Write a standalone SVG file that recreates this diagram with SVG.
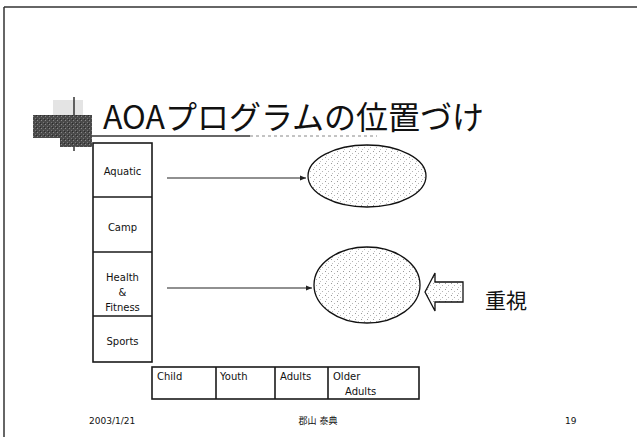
<svg xmlns="http://www.w3.org/2000/svg" width="637" height="437" viewBox="0 0 637 437">
<defs>
<pattern id="dots" width="6" height="6" patternUnits="userSpaceOnUse">
<rect width="6" height="6" fill="#ffffff"/>
<rect x="1" y="1" width="1" height="1" fill="#9a9a9a"/>
<rect x="4" y="3" width="1" height="1" fill="#b5b5b5"/>
<rect x="2" y="5" width="1" height="1" fill="#c0c0c0"/>
</pattern>
<pattern id="grain" width="4" height="4" patternUnits="userSpaceOnUse">
<rect width="4" height="4" fill="#4a4a4a"/>
<rect x="1" y="0" width="1" height="1" fill="#8a8a8a"/>
<rect x="3" y="2" width="1" height="1" fill="#777"/>
<rect x="0" y="3" width="1" height="1" fill="#2a2a2a"/>
</pattern>
<marker id="ah" viewBox="0 0 10 10" refX="10" refY="5" markerWidth="6" markerHeight="6" orient="auto" markerUnits="userSpaceOnUse">
<path d="M0,1 L10,5 L0,9 Z" fill="#222"/>
</marker>
<style>
.ln{stroke:#1a1a1a;stroke-width:1.6;fill:none}
.cell{font-family:"DejaVu Sans",Verdana,sans-serif;font-size:10px;fill:#111}
.ell{fill:url(#dots);stroke:#111;stroke-width:1.3}
.foot{font-family:"DejaVu Sans","Noto Sans CJK JP",sans-serif;font-size:9px;fill:#111}
</style>
</defs>
<rect width="637" height="437" fill="#ffffff"/>
<g id="frame">
<line x1="4" y1="7" x2="637" y2="7" stroke="#333" stroke-width="1.5"/>
<line x1="4" y1="7" x2="4" y2="437" stroke="#333" stroke-width="1.5"/>
</g>
<g id="title">
<rect x="53" y="100" width="30" height="17" fill="#e4e4e4"/>
<line x1="74" y1="97" x2="74" y2="151" stroke="#333" stroke-width="1.5"/>
<path d="M33,115 H92 V147 H60 V138 H33 Z" fill="url(#grain)"/>
<line x1="92" y1="136" x2="250" y2="136" stroke="#333" stroke-width="1.3"/>
<line x1="250" y1="136" x2="377" y2="136" stroke="#888" stroke-width="1" stroke-dasharray="3,3"/>
<text x="103" y="129" font-family="'Noto Sans CJK JP','Noto Sans',sans-serif" font-size="32" fill="#111">AOAプログラムの位置づけ</text>
</g>
<g id="programs">
<rect x="93" y="143" width="59" height="219" class="ln"/>
<line x1="93" y1="197" x2="152" y2="197" class="ln"/>
<line x1="93" y1="252" x2="152" y2="252" class="ln"/>
<line x1="93" y1="316" x2="152" y2="316" class="ln"/>
<text class="cell" x="122.5" y="175" text-anchor="middle">Aquatic</text>
<text class="cell" x="122.5" y="231" text-anchor="middle">Camp</text>
<text class="cell" x="122.5" y="281" text-anchor="middle">Health</text>
<text class="cell" x="122.5" y="296" text-anchor="middle">&amp;</text>
<text class="cell" x="122.5" y="311" text-anchor="middle">Fitness</text>
<text class="cell" x="122.5" y="345" text-anchor="middle">Sports</text>
</g>
<g id="ages">
<rect x="152" y="367" width="267" height="32" class="ln"/>
<line x1="216" y1="367" x2="216" y2="399" class="ln"/>
<line x1="275" y1="367" x2="275" y2="399" class="ln"/>
<line x1="328" y1="367" x2="328" y2="399" class="ln"/>
<text class="cell" x="157" y="380">Child</text>
<text class="cell" x="220" y="380">Youth</text>
<text class="cell" x="280" y="380">Adults</text>
<text class="cell" x="333" y="380">Older</text>
<text class="cell" x="345" y="395">Adults</text>
</g>
<g id="ellipse1">
<ellipse cx="367" cy="176" rx="59" ry="31" class="ell"/>
</g>
<g id="ellipse2">
<ellipse cx="367" cy="285" rx="53" ry="38" class="ell"/>
</g>
<g id="emphasis">
<path d="M425,292 L435,273 V282 H463 V302 H435 V311 Z" fill="url(#dots)" stroke="#111" stroke-width="1.3"/>
<text x="485" y="308" font-family="'Noto Sans CJK JP',sans-serif" font-size="21" fill="#111">重視</text>
</g>
<g id="connectors">
<line x1="167" y1="178" x2="306" y2="178" stroke="#222" stroke-width="1.2" marker-end="url(#ah)"/>
<line x1="167" y1="288" x2="312" y2="288" stroke="#222" stroke-width="1.2" marker-end="url(#ah)"/>
</g>
<g id="footer">
<text class="foot" x="89" y="424">2003/1/21</text>
<text class="foot" x="318" y="424" text-anchor="middle" font-size="8">郡山 泰典</text>
<text class="foot" x="565" y="424">19</text>
</g>
</svg>
